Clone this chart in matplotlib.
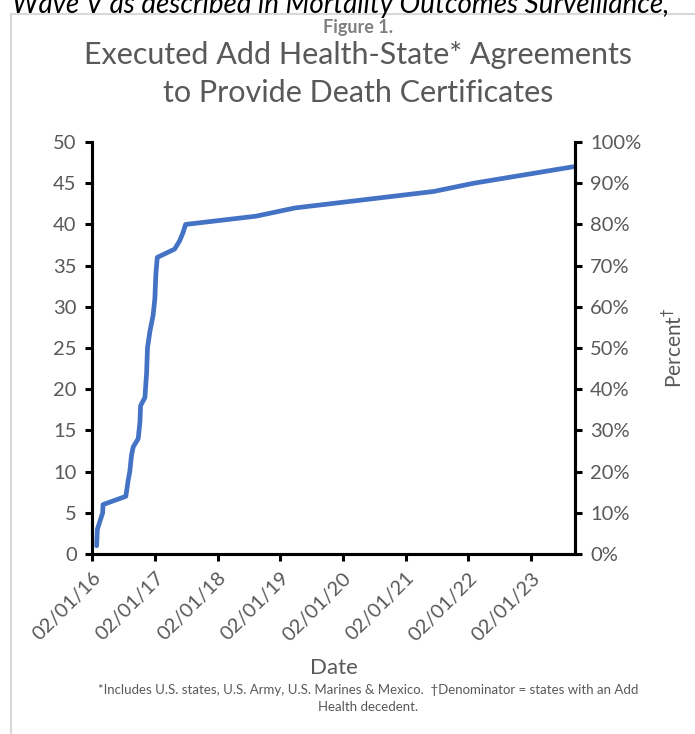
import matplotlib.pyplot as plt
import matplotlib.dates as mdates
import numpy as np
import pandas as pd

plt.rcParams['font.family'] = ['Lato', 'DejaVu Sans']

# cumulative executed agreements
dates = ['2016-02-28', '2016-03-03', '2016-04-03', '2016-04-05', '2016-08-16',
         '2016-08-30', '2016-09-08', '2016-09-18', '2016-09-28', '2016-10-27',
         '2016-11-06', '2016-11-10', '2016-12-05', '2016-12-15', '2016-12-20',
         '2017-01-03', '2017-01-22', '2017-02-01', '2017-02-07', '2017-02-15',
         '2017-05-27', '2017-06-25', '2017-07-15', '2017-07-30', '2018-09-13',
         '2019-04-28', '2021-07-14', '2022-03-04', '2023-10-05']
counts = [1, 3, 5, 6, 7,
          9, 10, 12, 13, 14,
          16, 18, 19, 22, 25,
          27, 29, 31, 34, 36,
          37, 38, 39, 40, 41,
          42, 44, 45, 47]
tick_dates = ['2016-02-01', '2017-02-01', '2018-02-01', '2019-02-01',
              '2020-02-01', '2021-02-01', '2022-02-01', '2023-02-01']
denominator = 50

x = pd.to_datetime(dates)
gray = '#595959'

fig = plt.figure(figsize=(6.95, 7.34), dpi=100)
ax = fig.add_axes([0.1324, 0.2452, 0.6949, 0.5613])
ax.plot(x, counts, color='#4472C4', linewidth=3.4, solid_capstyle='round',
        solid_joinstyle='round')

ax.set_ylim(0, 50)
ax.set_yticks(np.arange(0, 51, 5))
ax.set_xlim(pd.Timestamp('2016-02-01'), pd.Timestamp('2023-10-15'))
ax.set_xticks(pd.to_datetime(tick_dates))
ax.xaxis.set_major_formatter(mdates.DateFormatter('%m/%d/%y'))
plt.setp(ax.get_xticklabels(), rotation=45, ha='right', rotation_mode='anchor')

ax2 = ax.twinx()
ax2.set_ylim(0, 100)
ax2.set_yticks(np.arange(0, 101, 10))
ax2.set_yticklabels([f'{v}%' for v in range(0, 101, 10)])

for a in (ax, ax2):
    for s in a.spines.values():
        s.set_linewidth(2.2)
    a.spines['top'].set_visible(False)
    a.tick_params(colors='black', labelcolor=gray, labelsize=14.5,
                  width=2.2, length=5, direction='out', pad=6)

ax.spines['right'].set_visible(True)
ax2.set_ylabel('Percent$^{\\dagger}$', color=gray, fontsize=15, labelpad=14)
ax.set_xlabel('Date', color=gray, fontsize=16, labelpad=10)

fig.text(0.515, 0.963, 'Figure 1.', ha='center', va='center', color='#7f7f7f',
         fontsize=13, fontweight='bold')
fig.text(0.515, 0.899, 'Executed Add Health-State* Agreements\nto Provide Death Certificates',
         ha='center', va='center', color=gray, fontsize=22, linespacing=1.45)
fig.text(0.53, 0.048, '*Includes U.S. states, U.S. Army, U.S. Marines & Mexico.  '
         '\u2020Denominator = states with an Add\nHealth decedent.',
         ha='center', va='center', color=gray, fontsize=9.5, linespacing=1.5)

# cropped text from the page above the figure
fig.text(0.49, 0.993, 'Wave V as described in Mortality Outcomes Surveillance,',
         ha='center', va='center', color='black', fontsize=20, style='italic')

# light frame around the figure
fig.add_artist(plt.Line2D([0.0165, 0.0165], [0.0, 0.981], color='#d9d9d9', linewidth=1.5))
fig.add_artist(plt.Line2D([0.0165, 1.0], [0.981, 0.981], color='#d9d9d9', linewidth=1.5))

fig.savefig('out.png', dpi=100)
